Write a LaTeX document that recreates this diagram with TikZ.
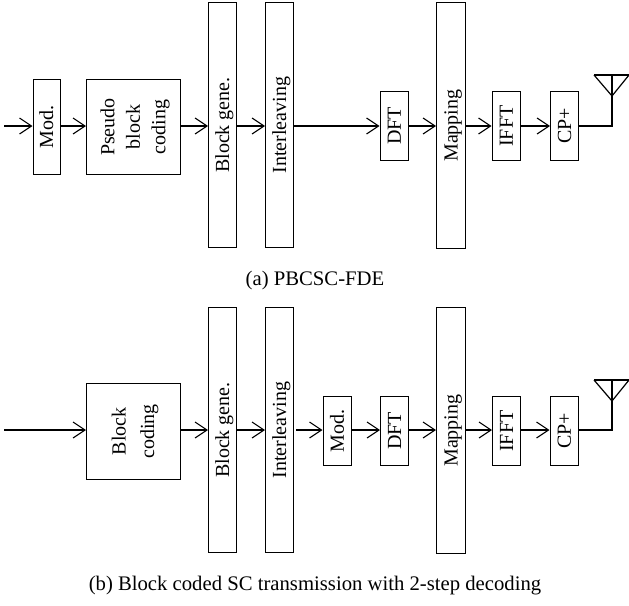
\documentclass[tikz,border=0pt]{standalone}
\usepackage{fontspec}
\setmainfont{Liberation Serif}
\usetikzlibrary{arrows.meta}
\newcommand{\vtext}[1]{\makebox[0pt][c]{\hspace*{3pt}\rotatebox{90}{\begin{tabular}{@{}c@{}}#1\end{tabular}}}}
\tikzset{
  x=1pt,y=-1pt,
  blockbox/.style={draw,line width=1.2pt,inner sep=0pt,font=\fontsize{20}{25.5}\selectfont},
  flow/.style={line width=1.2pt,-{Straight Barb[length=12pt,width=16pt,line width=1.1pt]}},
  wire/.style={line width=1.2pt},
  ant/.style={line width=1.2pt},
  antbar/.style={line width=1.9pt},
  caption/.style={font=\fontsize{20.7}{24}\selectfont,inner sep=0pt}
}
\newcommand{\bx}[6]{\node[blockbox,minimum width=#4-#3,minimum height=#6-#5,anchor=north west] (#1) at (#3,#5) {\vtext{#2}};}
\begin{document}
\begin{tikzpicture}
\useasboundingbox (0,0) rectangle (629,605);
% (a)
\coordinate (ra) at (0,126);
\coordinate (ina) at (4,126);
\bx{amod}{Mod.}{32.5}{59.5}{79}{174}
\bx{apb}{Pseudo\\block\\coding}{86}{179.5}{79}{174}
\bx{agen}{Block gene.}{208}{236}{2}{247}
\bx{aint}{Interleaving}{265}{293}{2}{247}
\bx{adft}{DFT}{379.5}{408}{91}{160}
\bx{amap}{Mapping}{436}{465}{2}{248}
\bx{aifft}{IFFT}{491.5}{520}{91}{160}
\bx{acp}{CP+}{550}{578}{91}{160}
\draw[flow] (ina) -- (amod.west |- ra);
\draw[flow] (amod.east |- ra) -- (apb.west |- ra);
\draw[flow] (apb.east |- ra) -- (agen.west |- ra);
\draw[flow] (agen.east |- ra) -- (aint.west |- ra);
\draw[flow] (aint.east |- ra) -- (adft.west |- ra);
\draw[flow] (adft.east |- ra) -- (amap.west |- ra);
\draw[flow] (amap.east |- ra) -- (aifft.west |- ra);
\draw[flow] (aifft.east |- ra) -- (acp.west |- ra);
\coordinate (atip) at (612,96);
\coordinate (atop) at (612,75);
\draw[wire] (acp.east |- ra) -- (atip |- ra) -- (atop);
\draw[ant] (594,75) -- (atip) -- (629,75);
\draw[antbar] (594,75) -- (629,75);
\node[caption] (capa) at (315,281) {(a) PBCSC-FDE};
% (b)
\coordinate (rb) at (0,430);
\coordinate (inb) at (4,430);
\bx{bbc}{Block\\[3pt]coding}{86}{179.5}{382.5}{479}
\bx{bgen}{Block gene.}{208}{236}{307}{552}
\bx{bint}{Interleaving}{265}{293}{307}{552}
\bx{bmod}{Mod.}{322.5}{351}{396}{465}
\bx{bdft}{DFT}{380}{408}{396}{465}
\bx{bmap}{Mapping}{436}{465}{307}{553}
\bx{bifft}{IFFT}{492}{520}{396}{465}
\bx{bcp}{CP+}{549.5}{578}{396}{465}
\draw[flow] (inb) -- (bbc.west |- rb);
\draw[flow] (bbc.east |- rb) -- (bgen.west |- rb);
\draw[flow] (bgen.east |- rb) -- (bint.west |- rb);
\draw[flow,shorten <=2pt] (bint.east |- rb) -- (bmod.west |- rb);
\draw[flow] (bmod.east |- rb) -- (bdft.west |- rb);
\draw[flow] (bdft.east |- rb) -- (bmap.west |- rb);
\draw[flow] (bmap.east |- rb) -- (bifft.west |- rb);
\draw[flow] (bifft.east |- rb) -- (bcp.west |- rb);
\coordinate (btip) at (612,401);
\coordinate (btop) at (612,380);
\draw[wire] (bcp.east |- rb) -- (btip |- rb) -- (btop);
\draw[ant] (594,380) -- (btip) -- (629,380);
\draw[antbar] (594,380) -- (629,380);
\node[caption] (capb) at (315,586) {(b) Block coded SC transmission with 2-step decoding};
\end{tikzpicture}
\end{document}
